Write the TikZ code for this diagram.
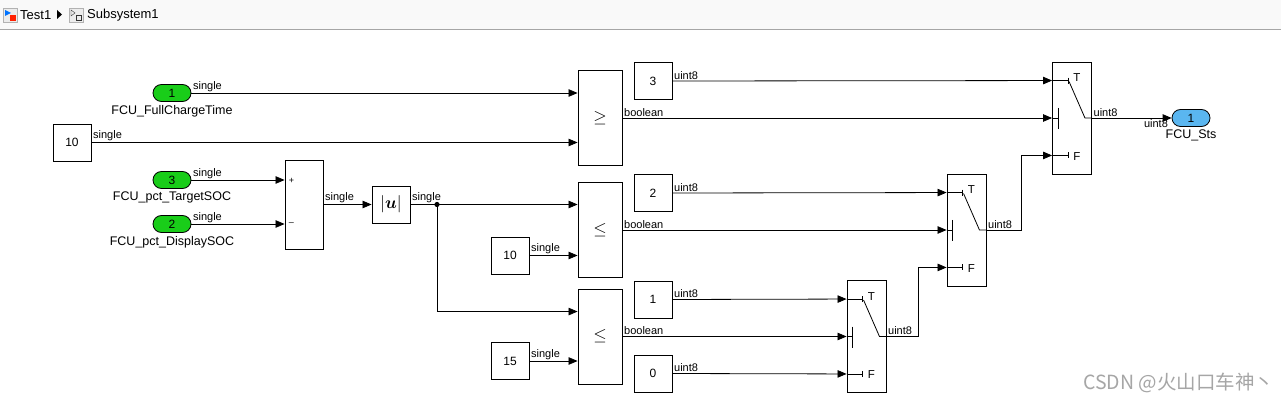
\documentclass[tikz,border=0pt]{standalone}
\usepackage{fontspec}
\usepackage{amsmath}
\setmainfont{Liberation Sans}
\newfontfamily\cjkfont{Noto Sans CJK SC}
\usetikzlibrary{arrows.meta,calc,positioning}
\definecolor{portgreen}{RGB}{25,205,25}
\definecolor{portblue}{RGB}{90,182,240}

% switch block inside: T / control / F stubs and the lever
\newcommand{\swinner}[1]{%
  \coordinate (#1-T) at ($(#1.north west)+(0,19)$);
  \coordinate (#1-F) at ($(#1.south west)+(0,-19)$);
  \draw[wire] (#1-T) -- ++(16,0) coordinate (#1-t);
  \draw[wire] ($(#1-t)+(0,-3)$) -- ++(0,6);
  \node[swlbl] (#1-tl) at ($(#1-t)+(5,-3)$) {T};
  \draw[wire] (#1-F) -- ++(16,0) coordinate (#1-f);
  \draw[wire] ($(#1-f)+(0,-3)$) -- ++(0,6);
  \node[swlbl] (#1-fl) at ($(#1-f)+(5,1)$) {F};
  \draw[wire] (#1.west) -- ++(6,0) coordinate (#1-c);
  \draw[wire] ($(#1-c)+(0,-10)$) -- ++(0,21);
  \draw[wire] ($(#1-t)+(1,1)$) -- ($(#1.east)+(-7,0)$) -- (#1.east);
}

\begin{document}
\begin{tikzpicture}[x=1pt, y=-1pt,
  blk/.style={draw, line width=0.9pt, fill=white, inner sep=0pt},
  cst/.style={blk, minimum width=38pt, minimum height=37pt, font=\fontsize{12}{14}\selectfont},
  cmp/.style={blk, minimum width=44pt, minimum height=95pt, font=\fontsize{18}{20}\selectfont},
  swb/.style={blk, minimum width=39pt, minimum height=112pt},
  port/.style={draw, line width=0.8pt, rounded corners=8.5pt, minimum width=38pt, minimum height=17pt, inner sep=0pt, font=\fontsize{12}{14}\selectfont},
  inport/.style={port, fill=portgreen},
  outport/.style={port, fill=portblue},
  plbl/.style={font=\fontsize{12.5}{14}\selectfont, inner sep=1pt},
  slbl/.style={font=\fontsize{11}{13}\selectfont, inner sep=1.5pt, anchor=south west},
  swlbl/.style={font=\fontsize{11.5}{13}\selectfont, inner sep=0pt, anchor=west},
  sig/.style={line width=0.8pt, -{Triangle[length=9pt,width=7.5pt]}},
  wire/.style={line width=0.8pt}]
\useasboundingbox (0,0) rectangle (1281,403);
\fill[white] (0,0) rectangle (1281,403);

% breadcrumb bar
\fill[gray!5] (0,0) rectangle (1281,29);
\draw[gray!70, line width=1pt] (0,30) -- (1281,30);
\filldraw[fill=gray!15, draw=gray!60] (3,8) rectangle (17,22);
\fill[blue!55!cyan] (5,10) -- (11,13) -- (5,16) -- cycle;
\fill[red!75!orange] (10,15) rectangle (16,21);
\node[anchor=west, font=\fontsize{13}{15}\selectfont, inner sep=0pt] (crumbA) at (20,15) {Test1};
\fill (57,10) -- (62,14.5) -- (57,19) -- cycle;
\filldraw[fill=gray!15, draw=gray!60] (69,8) rectangle (83,22);
\draw[gray!40!black] (71,10) -- (75,13) -- (71,16) -- cycle;
\draw[gray!40!black] (76,15) rectangle (81,20);
\node[anchor=west, font=\fontsize{13}{15}\selectfont, inner sep=0pt] (crumbB) at (87,15) {Subsystem1};

% inports and constants
\node[inport] (in1) at (172,93) {1};
\node[plbl, below=2pt of in1.south, anchor=north] (in1l) {FCU\_FullChargeTime};
\node[cst] (c10a) at (72,142.5) {10};
\node[inport] (in3) at (172,180) {3};
\node[plbl, below=2pt of in3.south, anchor=north] (in3l) {FCU\_pct\_TargetSOC};
\node[inport] (in2) at (172,224) {2};
\node[plbl, below=2pt of in2.south, anchor=north] (in2l) {FCU\_pct\_DisplaySOC};

% sum and abs
\node[blk, minimum width=38pt, minimum height=89pt] (sum) at (304,204.5) {};
\node[anchor=west, font=\fontsize{9}{10}\selectfont, inner sep=0pt] (sumP) at ($(sum.west |- in3.east)+(4,0.5)$) {+};
\node[anchor=west, font=\fontsize{9}{10}\selectfont, inner sep=0pt] (sumM) at ($(sum.west |- in2.east)+(4,0.5)$) {--};
\node[blk, minimum width=38pt, minimum height=37pt, font=\fontsize{16}{18}\selectfont] (abs) at (391,204.5) {$|\boldsymbol{u}|$};
\coordinate (dot) at (437,204.5);

% relational operators
\node[cmp] (cmpGE) at (600,118) {$\geq$};
\node[cmp] (cmpLE1) at (600,230) {$\leq$};
\node[cmp] (cmpLE2) at (600,336.5) {$\leq$};
\coordinate (le2in) at ($(cmpLE2.north west)+(0,23)$);
\node[cst] (c10b) at (510,255.5) {10};
\node[cst] (c15) at (510,361) {15};

% switch constants
\node[cst] (c3) at (653,81) {3};
\node[cst] (c2) at (653,193) {2};
\node[cst] (c1) at (653,299.5) {1};
\node[cst] (c0) at (653,373.5) {0};

% switches
\node[swb] (sw1) at (1072,118) {};
\node[swb] (sw2) at (966.5,230) {};
\node[swb] (sw3) at (866.5,336.5) {};
\swinner{sw1}
\swinner{sw2}
\swinner{sw3}

\node[outport] (out1) at (1191,118) {1};
\node[plbl, below=2pt of out1.south, anchor=north] (out1l) {FCU\_Sts};

% signals
\draw[sig] (in1.east) -- (in1.east -| cmpGE.west);
\draw[sig] (c10a.east) -- (c10a.east -| cmpGE.west);
\draw[sig] (in3.east) -- (in3.east -| sum.west);
\draw[sig] (in2.east) -- (in2.east -| sum.west);
\draw[sig] (sum.east) -- (abs.west);
\draw[wire] (abs.east) -- (dot);
\fill (dot) circle (2.6pt);
\draw[sig] (dot) -- (dot -| cmpLE1.west);
\draw[sig] (dot) |- (le2in);
\draw[sig] (c10b.east) -- (c10b.east -| cmpLE1.west);
\draw[sig] (c15.east) -- (c15.east -| cmpLE2.west);
\draw[sig] (c3.east) -- (sw1-T);
\draw[sig] (cmpGE.east) -- (sw1.west);
\draw[sig] (sw2.east) -- ++(35,0) |- (sw1-F);
\draw[sig] (c2.east) -- (sw2-T);
\draw[sig] (cmpLE1.east) -- (sw2.west);
\draw[sig] (sw3.east) -- ++(32,0) |- (sw2-F);
\draw[sig] (c1.east) -- (sw3-T);
\draw[sig] (cmpLE2.east) -- (sw3.west);
\draw[sig] (c0.east) -- (sw3-F);
\draw[sig] (sw1.east) -- (out1.west);

% signal labels
\node[slbl] (l1) at (in1.east) {single};
\node[slbl] (l2) at (c10a.east) {single};
\node[slbl] (l3) at (in3.east) {single};
\node[slbl] (l4) at (in2.east) {single};
\node[slbl] (l5) at (sum.east) {single};
\node[slbl] (l6) at (abs.east) {single};
\node[slbl] (l7) at (c10b.east) {single};
\node[slbl] (l8) at (c15.east) {single};
\node[slbl] (l9) at (cmpGE.east) {boolean};
\node[slbl] (l10) at (cmpLE1.east) {boolean};
\node[slbl] (l11) at (cmpLE2.east) {boolean};
\node[slbl] (l12) at (c3.east) {uint8};
\node[slbl] (l13) at (c2.east) {uint8};
\node[slbl] (l14) at (c1.east) {uint8};
\node[slbl] (l15) at (c0.east) {uint8};
\node[slbl] (l16) at (sw1.east) {uint8};
\node[slbl] (l17) at (sw2.east) {uint8};
\node[slbl] (l18) at (sw3.east) {uint8};
\node[slbl, anchor=north east] (l19) at ($(out1.west)+(-2,0)$) {uint8};

% watermark
\node[anchor=west, text=gray!70, font=\cjkfont\fontsize{19.5}{22}\selectfont, inner sep=0pt] (mark) at (1083,383) {CSDN @火山口车神丶};
\end{tikzpicture}
\end{document}
